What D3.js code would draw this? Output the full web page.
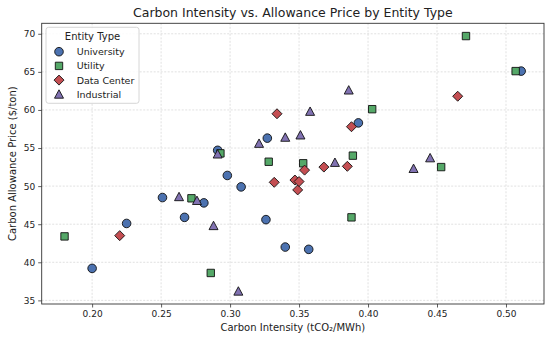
<!DOCTYPE html>
<html lang="en">
<head>
  <meta charset="utf-8">
  <title>Carbon Intensity vs. Allowance Price</title>
  <script src="https://cdn.jsdelivr.net/npm/d3@7"></script>
  <style>
    body { margin: 0; background: #fff; }
    text { font-family: "DejaVu Sans", sans-serif; fill: #222; }
  </style>
</head>
<body>
  <div id="chart"></div>
  <script type="text/javascript">
    // carbon intensity (tCO2/MWh) and allowance price ($/ton)
    var universityX = [0.200, 0.225, 0.251, 0.267, 0.281, 0.291, 0.298, 0.308, 0.326, 0.327, 0.340, 0.357, 0.393, 0.511];
    var universityY = [39.2, 45.1, 48.5, 45.9, 47.8, 54.7, 51.4, 49.9, 45.6, 56.3, 42.0, 41.7, 58.3, 65.1];
    var utilityX = [0.180, 0.272, 0.286, 0.293, 0.328, 0.353, 0.388, 0.389, 0.403, 0.453, 0.471, 0.507];
    var utilityY = [43.4, 48.4, 38.6, 54.3, 53.2, 53.0, 45.9, 54.0, 60.1, 52.5, 69.7, 65.1];
    var dataCenterX = [0.220, 0.332, 0.334, 0.347, 0.349, 0.350, 0.354, 0.368, 0.385, 0.388, 0.465];
    var dataCenterY = [43.5, 50.5, 59.5, 50.8, 49.5, 50.6, 52.1, 52.5, 52.6, 57.8, 61.8];
    var industrialX = [0.263, 0.276, 0.288, 0.291, 0.306, 0.321, 0.340, 0.351, 0.358, 0.376, 0.386, 0.433, 0.445];
    var industrialY = [48.6, 48.1, 44.8, 54.2, 36.2, 55.6, 56.4, 56.7, 59.8, 53.1, 62.6, 52.3, 53.7];

    var categories = ["University", "Utility", "Data Center", "Industrial"];
    var xTicks = [0.20, 0.25, 0.30, 0.35, 0.40, 0.45, 0.50];
    var yTicks = [35, 40, 45, 50, 55, 60, 65, 70];

    var colors = {"University": "#4C72B0", "Utility": "#55A868", "Data Center": "#C44E52", "Industrial": "#8172B2"};
    var shapes = {"University": "circle", "Utility": "square", "Data Center": "diamond", "Industrial": "triangle"};

    var series = [
      {name: "University", xs: universityX, ys: universityY},
      {name: "Utility", xs: utilityX, ys: utilityY},
      {name: "Data Center", xs: dataCenterX, ys: dataCenterY},
      {name: "Industrial", xs: industrialX, ys: industrialY}
    ];
    var points = [];
    series.forEach(function(s) {
      s.xs.forEach(function(x, i) { points.push({cat: s.name, x: x, y: s.ys[i]}); });
    });

    var W = 550, H = 337;
    var margin = {top: 23.3, right: 6, bottom: 33, left: 41.7};
    var w = W - margin.left - margin.right, h = H - margin.top - margin.bottom;

    // matplotlib-like 5% padding around data
    var xe = d3.extent(points, function(d) { return d.x; });
    var ye = d3.extent(points, function(d) { return d.y; });
    var xp = (xe[1] - xe[0]) * 0.05, yp = (ye[1] - ye[0]) * 0.05;
    var x = d3.scaleLinear().domain([xe[0] - xp, xe[1] + xp]).range([0, w]);
    var y = d3.scaleLinear().domain([ye[0] - yp, ye[1] + yp]).range([h, 0]);

    var svg = d3.select("#chart").append("svg").attr("width", W).attr("height", H);
    var g = svg.append("g").attr("transform", "translate(" + margin.left + "," + margin.top + ")");

    // grid
    g.append("g").selectAll("line").data(xTicks).enter().append("line")
      .attr("x1", function(d) { return x(d); }).attr("x2", function(d) { return x(d); })
      .attr("y1", 0).attr("y2", h)
      .attr("stroke", "#d9d9d9").attr("stroke-width", 0.8).attr("stroke-dasharray", "2,1.5");
    g.append("g").selectAll("line").data(yTicks).enter().append("line")
      .attr("y1", function(d) { return y(d); }).attr("y2", function(d) { return y(d); })
      .attr("x1", 0).attr("x2", w)
      .attr("stroke", "#d9d9d9").attr("stroke-width", 0.8).attr("stroke-dasharray", "2,1.5");

    // axes
    var xAxis = g.append("g").attr("transform", "translate(0," + h + ")")
      .call(d3.axisBottom(x).tickValues(xTicks).tickFormat(d3.format(".2f")).tickSize(3.5).tickPadding(3));
    var yAxis = g.append("g")
      .call(d3.axisLeft(y).tickValues(yTicks).tickSize(3.5).tickPadding(3));
    [xAxis, yAxis].forEach(function(a) {
      a.select(".domain").remove();
      a.selectAll("line").attr("stroke", "#333").attr("stroke-width", 0.8);
      a.selectAll("text").style("font-family", "DejaVu Sans").style("font-size", "9px").attr("fill", "#222");
    });

    g.append("rect").attr("width", w).attr("height", h)
      .attr("fill", "none").attr("stroke", "#333").attr("stroke-width", 0.9);

    function markerPath(shape) {
      if (shape === "circle") return d3.symbol().type(d3.symbolCircle).size(Math.PI * 4.3 * 4.3)();
      if (shape === "square") return "M-3.7,-3.7H3.7V3.7H-3.7Z";
      if (shape === "diamond") return "M0,-5L5,0L0,5L-5,0Z";
      return "M0,-4.5L4.5,3.9L-4.5,3.9Z";
    }

    g.append("g").selectAll("path").data(points).enter().append("path")
      .attr("transform", function(d) { return "translate(" + x(d.x) + "," + y(d.y) + ")"; })
      .attr("d", function(d) { return markerPath(shapes[d.cat]); })
      .attr("fill", function(d) { return colors[d.cat]; })
      .attr("stroke", "#111").attr("stroke-width", 0.9);

    // labels
    svg.append("text").attr("x", margin.left + w / 2).attr("y", 17)
      .attr("text-anchor", "middle").style("font-size", "12.5px").text("Carbon Intensity vs. Allowance Price by Entity Type");
    svg.append("text").attr("x", margin.left + w / 2).attr("y", 331)
      .attr("text-anchor", "middle").style("font-size", "10px").text("Carbon Intensity (tCO\u2082/MWh)");
    svg.append("text").attr("transform", "translate(16," + (margin.top + h / 2) + ") rotate(-90)")
      .attr("text-anchor", "middle").style("font-size", "10px").text("Carbon Allowance Price ($/ton)");

    // legend
    var lg = svg.append("g").attr("transform", "translate(46,27.3)");
    lg.append("rect").attr("width", 93).attr("height", 76).attr("rx", 2.5)
      .attr("fill", "#fff").attr("fill-opacity", 0.85).attr("stroke", "#ccc").attr("stroke-width", 0.8);
    lg.append("text").attr("x", 46.5).attr("y", 12.3).attr("text-anchor", "middle")
      .style("font-size", "10px").text("Entity Type");
    var rows = lg.selectAll("g.row").data(categories).enter().append("g").attr("class", "row")
      .attr("transform", function(d, i) { return "translate(0," + (24.4 + i * 14.2) + ")"; });
    rows.append("path").attr("transform", "translate(13,0)")
      .attr("d", function(d) { return markerPath(shapes[d]); })
      .attr("fill", function(d) { return colors[d]; })
      .attr("stroke", "#111").attr("stroke-width", 0.9);
    rows.append("text").attr("x", 30.7).attr("y", 3.4)
      .style("font-size", "9.5px").text(function(d) { return d; });
  </script>
</body>
</html>
